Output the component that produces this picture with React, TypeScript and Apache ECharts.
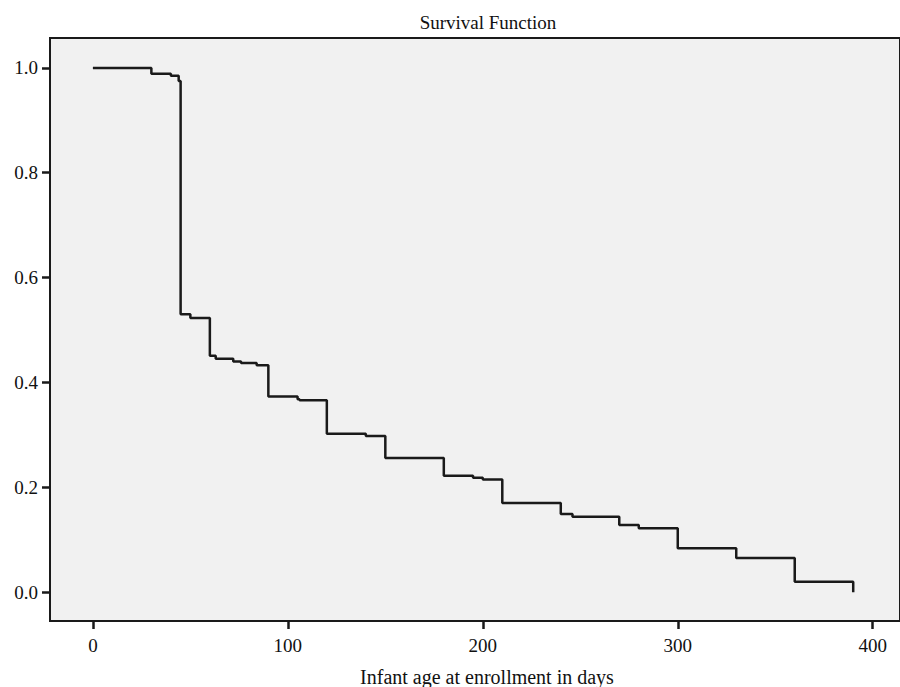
import React, { useEffect, useRef } from "react";
import * as echarts from "echarts";

const TITLE = "Survival Function";
const X_NAME = "Infant age at enrollment in days";
const days = [0, 30, 40, 44, 45, 50, 60, 63, 72, 76, 84, 90, 105, 106, 120, 140, 150, 180, 195, 200, 210, 240, 246, 270, 280, 300, 330, 360, 390];
const survival = [1.0, 0.989, 0.985, 0.975, 0.53, 0.523, 0.451, 0.445, 0.44, 0.437, 0.433, 0.373, 0.368, 0.366, 0.302, 0.298, 0.256, 0.222, 0.218, 0.215, 0.17, 0.149, 0.144, 0.128, 0.122, 0.084, 0.065, 0.02, 0.0];
const xTicks = [0, 100, 200, 300, 400];
const yTicks = [0, 0.2, 0.4, 0.6, 0.8, 1.0];

const FONT = "'Liberation Serif', 'Times New Roman', serif";

export default function App() {
  const ref = useRef<HTMLDivElement>(null);
  useEffect(() => {
    if (!ref.current) return;
    const chart = echarts.init(ref.current, null, { renderer: "svg" });
    chart.setOption({
      animation: false,
      backgroundColor: "#ffffff",
      grid: {
        left: 50,
        top: 38,
        right: -3,
        bottom: 66,
        show: true,
        backgroundColor: "#f1f1f1",
        borderColor: "#1a1a1a",
        borderWidth: 2,
      },
      graphic: [
        {
          type: "text",
          x: 488,
          y: 22,
          style: { text: TITLE, fontFamily: FONT, fontSize: 19, fill: "#111", textAlign: "center", textVerticalAlign: "middle" },
        },
        {
          type: "text",
          x: 487,
          y: 677,
          style: { text: X_NAME, fontFamily: FONT, fontSize: 20, fill: "#111", textAlign: "center", textVerticalAlign: "middle" },
        },
      ],
      xAxis: {
        type: "value",
        min: -22,
        max: 414,
        splitLine: { show: false },
        axisLine: { show: true, onZero: false, lineStyle: { color: "#1a1a1a", width: 2 } },
        axisTick: { show: true, customValues: xTicks, length: 8, lineStyle: { color: "#1a1a1a", width: 2.5 } },
        axisLabel: { customValues: xTicks, fontFamily: FONT, fontSize: 19, color: "#111", margin: 15 },
      },
      yAxis: {
        type: "value",
        min: -0.055,
        max: 1.057,
        splitLine: { show: false },
        axisLine: { show: true, onZero: false, lineStyle: { color: "#1a1a1a", width: 2 } },
        axisTick: { show: true, customValues: yTicks, length: 8, lineStyle: { color: "#1a1a1a", width: 2.5 } },
        axisLabel: {
          customValues: yTicks,
          fontFamily: FONT,
          fontSize: 19,
          color: "#111",
          margin: 12,
          formatter: (v: number) => v.toFixed(1),
        },
      },
      series: [
        {
          type: "line",
          step: "end",
          data: days.map((d, i) => [d, survival[i]]),
          symbol: "none",
          lineStyle: { color: "#1a1a1a", width: 2.5 },
        },
      ],
    });
    return () => chart.dispose();
  }, []);
  return <div ref={ref} style={{ position: "fixed", left: 0, top: 0, width: 900, height: 687 }} />;
}
